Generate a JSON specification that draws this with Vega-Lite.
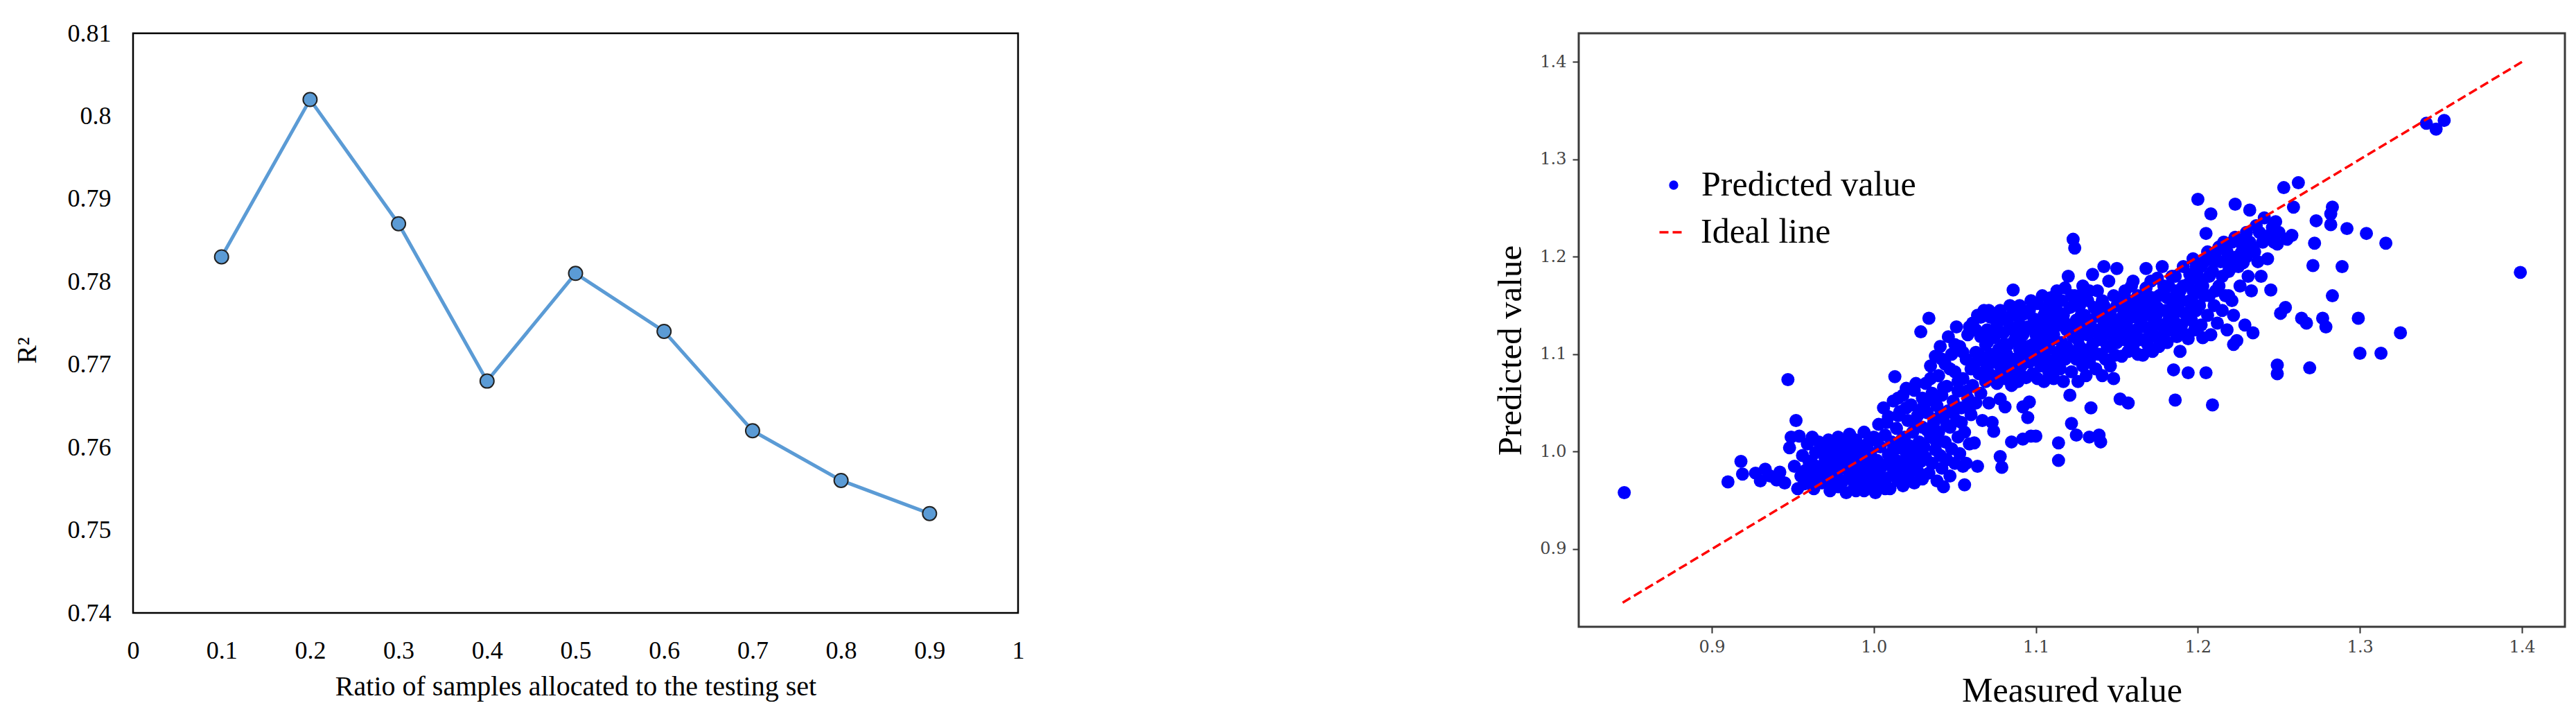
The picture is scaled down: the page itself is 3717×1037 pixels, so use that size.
{
  "$schema": "https://vega.github.io/schema/vega-lite/v6.json",
  "autosize": {"type": "pad"},
  "padding": {"left": 17, "top": 28, "right": 19, "bottom": 20},
  "background": "white",
  "bounds": "flush",
  "spacing": 809,
  "datasets": {
    "pred": [
      {"m":0.846,"p":0.958},{"m":0.910,"p":0.969},{"m":0.918,"p":0.990},{"m":0.919,"p":0.977},{"m":0.927,"p":0.978},{"m":0.930,"p":0.970},{"m":0.933,"p":0.982},{"m":0.936,"p":0.975},{"m":0.940,"p":0.971},{"m":0.942,"p":0.979},{"m":0.945,"p":0.968},{"m":0.947,"p":1.074},{"m":0.948,"p":1.004},{"m":0.949,"p":1.015},{"m":0.952,"p":1.032},{"m":0.951,"p":0.985},{"m":0.953,"p":0.962},{"m":0.954,"p":1.016},{"m":0.955,"p":0.975},{"m":0.956,"p":0.996},
      {"m":0.957,"p":0.967},{"m":0.958,"p":0.981},{"m":0.959,"p":1.008},{"m":0.960,"p":0.990},{"m":0.961,"p":0.972},{"m":0.962,"p":1.015},{"m":0.963,"p":0.962},{"m":0.964,"p":0.999},{"m":0.965,"p":0.978},{"m":0.966,"p":1.010},{"m":0.967,"p":0.985},{"m":0.968,"p":0.968},{"m":0.969,"p":1.002},{"m":0.970,"p":0.993},{"m":0.971,"p":0.975},{"m":0.972,"p":1.012},{"m":0.973,"p":0.960},{"m":0.974,"p":0.984},{"m":0.975,"p":1.005},{"m":0.975,"p":0.970},
      {"m":0.976,"p":0.995},{"m":0.977,"p":0.978},{"m":0.978,"p":1.015},{"m":0.978,"p":0.964},{"m":0.979,"p":1.003},{"m":0.980,"p":0.988},{"m":0.981,"p":0.970},{"m":0.982,"p":1.010},{"m":0.982,"p":0.996},{"m":0.983,"p":0.958},{"m":0.984,"p":0.981},{"m":0.985,"p":1.018},{"m":0.985,"p":0.973},{"m":0.986,"p":1.001},{"m":0.987,"p":0.990},{"m":0.988,"p":0.964},{"m":0.989,"p":1.012},{"m":0.990,"p":0.979},{"m":0.990,"p":0.997},{"m":0.991,"p":0.969},{"m":0.992,"p":1.006},{"m":0.993,"p":0.985},{"m":0.994,"p":1.020},{"m":0.994,"p":0.960},{"m":0.995,"p":0.993},{"m":0.996,"p":0.975},{"m":0.997,"p":1.010},{"m":0.998,"p":0.966},{"m":0.998,"p":0.999},{"m":0.999,"p":0.983},{"m":1.000,"p":1.015},{"m":1.000,"p":0.972},
      {"m":1.001,"p":0.958},{"m":1.002,"p":0.991},{"m":1.003,"p":1.028},{"m":1.003,"p":0.978},{"m":1.004,"p":1.005},{"m":1.005,"p":0.966},{"m":1.006,"p":1.045},{"m":1.006,"p":0.986},{"m":1.007,"p":1.017},{"m":1.008,"p":0.973},{"m":1.009,"p":0.997},{"m":1.009,"p":1.036},{"m":1.010,"p":0.962},{"m":1.011,"p":1.010},{"m":1.012,"p":0.982},{"m":1.012,"p":1.052},{"m":1.013,"p":1.077},{"m":1.013,"p":0.992},{"m":1.014,"p":1.024},{"m":1.015,"p":0.970},{"m":1.016,"p":1.004},{"m":1.016,"p":1.041},{"m":1.017,"p":0.985},{"m":1.018,"p":1.058},{"m":1.018,"p":0.965},{"m":1.019,"p":1.015},{"m":1.020,"p":0.995},{"m":1.021,"p":1.032},{"m":1.021,"p":0.975},{"m":1.022,"p":1.006},{"m":1.023,"p":1.048},{"m":1.023,"p":0.987},{"m":1.024,"p":1.020},{"m":1.025,"p":0.968},{"m":1.025,"p":1.063},{"m":1.026,"p":0.998},{"m":1.027,"p":1.037},{"m":1.027,"p":0.980},{"m":1.028,"p":1.010},{"m":1.029,"p":1.123},{"m":1.029,"p":0.990},{"m":1.030,"p":1.055},{"m":1.030,"p":1.025},{"m":1.030,"p":0.972},
      {"m":1.031,"p":1.005},{"m":1.032,"p":1.070},{"m":1.032,"p":0.994},{"m":1.033,"p":1.040},{"m":1.034,"p":1.137},{"m":1.034,"p":0.978},{"m":1.035,"p":1.088},{"m":1.035,"p":1.015},{"m":1.036,"p":1.060},{"m":1.036,"p":0.988},{"m":1.037,"p":1.030},{"m":1.038,"p":1.098},{"m":1.038,"p":1.002},{"m":1.039,"p":1.047},{"m":1.039,"p":0.970},{"m":1.040,"p":1.078},{"m":1.040,"p":1.020},{"m":1.041,"p":0.996},{"m":1.041,"p":1.108},{"m":1.042,"p":1.058},{"m":1.042,"p":0.983},{"m":1.043,"p":1.035},{"m":1.043,"p":0.964},{"m":1.044,"p":1.090},{"m":1.044,"p":1.010},{"m":1.045,"p":1.067},{"m":1.045,"p":0.992},{"m":1.046,"p":1.042},{"m":1.046,"p":1.118},{"m":1.047,"p":1.025},{"m":1.047,"p":0.975},{"m":1.048,"p":1.100},{"m":1.048,"p":1.003},{"m":1.049,"p":1.052},{"m":1.050,"p":1.082},{"m":1.050,"p":0.988},{"m":1.051,"p":1.032},{"m":1.051,"p":1.128},{"m":1.052,"p":1.015},{"m":1.052,"p":1.062},{"m":1.053,"p":0.998},{"m":1.053,"p":1.108},{"m":1.054,"p":1.045},{"m":1.055,"p":1.075},{"m":1.055,"p":0.985},{"m":1.056,"p":0.966},{"m":1.056,"p":1.020},{"m":1.057,"p":1.095},{"m":1.057,"p":0.988},{"m":1.058,"p":1.055},{"m":1.058,"p":1.120},{"m":1.059,"p":1.008},{"m":1.060,"p":1.085},{"m":1.060,"p":1.038},
      {"m":1.061,"p":1.132},{"m":1.061,"p":1.068},{"m":1.062,"p":1.009},{"m":1.063,"p":1.102},{"m":1.063,"p":1.050},{"m":1.064,"p":1.140},{"m":1.064,"p":0.985},{"m":1.065,"p":1.080},{"m":1.066,"p":1.118},{"m":1.066,"p":1.060},{"m":1.067,"p":1.032},{"m":1.067,"p":1.094},{"m":1.068,"p":1.145},{"m":1.069,"p":1.072},{"m":1.069,"p":1.110},{"m":1.070,"p":1.125},{"m":1.070,"p":1.085},{"m":1.071,"p":1.050},{"m":1.072,"p":1.100},{"m":1.072,"p":1.138},{"m":1.073,"p":1.030},{"m":1.073,"p":1.078},{"m":1.074,"p":1.117},{"m":1.074,"p":1.021},{"m":1.075,"p":1.092},{"m":1.076,"p":1.130},{"m":1.076,"p":1.070},{"m":1.077,"p":1.105},{"m":1.078,"p":1.054},{"m":1.078,"p":1.145},{"m":1.078,"p":0.995},{"m":1.079,"p":1.084},{"m":1.079,"p":0.984},{"m":1.080,"p":1.122},{"m":1.080,"p":1.098},{"m":1.081,"p":1.046},{"m":1.081,"p":1.075},{"m":1.082,"p":1.135},{"m":1.083,"p":1.110},{"m":1.083,"p":1.088},{"m":1.084,"p":1.150},{"m":1.085,"p":1.068},{"m":1.085,"p":1.010},{"m":1.086,"p":1.125},{"m":1.086,"p":1.166},{"m":1.087,"p":1.095},{"m":1.087,"p":1.080},{"m":1.088,"p":1.140},{"m":1.089,"p":1.112},{"m":1.089,"p":1.072},{"m":1.090,"p":1.130},{"m":1.090,"p":1.150},{"m":1.091,"p":1.088},{"m":1.092,"p":1.046},{"m":1.092,"p":1.013},{"m":1.092,"p":1.120},{"m":1.093,"p":1.100},{"m":1.094,"p":1.142},{"m":1.094,"p":1.076},{"m":1.095,"p":1.035},{"m":1.095,"p":1.128},{"m":1.096,"p":1.092},{"m":1.096,"p":1.051},{"m":1.097,"p":1.016},{"m":1.097,"p":1.155},{"m":1.098,"p":1.110},{"m":1.098,"p":1.080},{"m":1.099,"p":1.136},{"m":1.100,"p":1.098},{"m":1.100,"p":1.016},{"m":1.100,"p":1.120},
      {"m":1.101,"p":1.152},{"m":1.101,"p":1.075},{"m":1.102,"p":1.108},{"m":1.103,"p":1.133},{"m":1.103,"p":1.088},{"m":1.104,"p":1.160},{"m":1.105,"p":1.118},{"m":1.105,"p":1.072},{"m":1.106,"p":1.096},{"m":1.106,"p":1.145},{"m":1.107,"p":1.128},{"m":1.108,"p":1.082},{"m":1.108,"p":1.110},{"m":1.109,"p":1.158},{"m":1.110,"p":1.138},{"m":1.110,"p":1.092},{"m":1.111,"p":1.120},{"m":1.111,"p":1.075},{"m":1.112,"p":1.148},{"m":1.113,"p":1.102},{"m":1.113,"p":1.165},{"m":1.114,"p":1.009},{"m":1.114,"p":0.991},{"m":1.114,"p":1.130},{"m":1.115,"p":1.085},{"m":1.116,"p":1.112},{"m":1.116,"p":1.155},{"m":1.117,"p":1.140},{"m":1.117,"p":1.072},{"m":1.118,"p":1.095},{"m":1.118,"p":1.168},{"m":1.119,"p":1.125},{"m":1.120,"p":1.180},{"m":1.120,"p":1.105},{"m":1.121,"p":1.058},{"m":1.121,"p":1.148},{"m":1.122,"p":1.029},{"m":1.122,"p":1.082},{"m":1.123,"p":1.218},{"m":1.123,"p":1.118},{"m":1.124,"p":1.209},{"m":1.124,"p":1.160},{"m":1.125,"p":1.017},{"m":1.125,"p":1.095},{"m":1.125,"p":1.135},{"m":1.126,"p":1.072},{"m":1.127,"p":1.150},{"m":1.127,"p":1.108},{"m":1.128,"p":1.125},{"m":1.129,"p":1.088},{"m":1.129,"p":1.170},{"m":1.130,"p":1.140},{"m":1.130,"p":1.100},{"m":1.131,"p":1.078},{"m":1.132,"p":1.120},{"m":1.132,"p":1.155},{"m":1.133,"p":1.015},{"m":1.133,"p":1.092},{"m":1.134,"p":1.045},{"m":1.134,"p":1.135},{"m":1.135,"p":1.182},{"m":1.135,"p":1.110},{"m":1.136,"p":1.148},{"m":1.137,"p":1.085},{"m":1.137,"p":1.125},{"m":1.138,"p":1.165},{"m":1.139,"p":1.017},{"m":1.139,"p":1.100},{"m":1.140,"p":1.010},{"m":1.140,"p":1.138},{"m":1.141,"p":1.118},{"m":1.141,"p":1.078},{"m":1.142,"p":1.190},{"m":1.142,"p":1.150},{"m":1.143,"p":1.095},{"m":1.144,"p":1.128},{"m":1.145,"p":1.108},{"m":1.145,"p":1.175},{"m":1.146,"p":1.142},{"m":1.146,"p":1.088},{"m":1.147,"p":1.120},{"m":1.148,"p":1.075},{"m":1.148,"p":1.160},{"m":1.149,"p":1.099},{"m":1.149,"p":1.135},{"m":1.150,"p":1.112},{"m":1.150,"p":1.188},
      {"m":1.151,"p":1.150},{"m":1.152,"p":1.054},{"m":1.152,"p":1.125},{"m":1.153,"p":1.098},{"m":1.154,"p":1.140},{"m":1.155,"p":1.115},{"m":1.155,"p":1.165},{"m":1.156,"p":1.130},{"m":1.157,"p":1.050},{"m":1.157,"p":1.103},{"m":1.158,"p":1.155},{"m":1.158,"p":1.120},{"m":1.159,"p":1.138},{"m":1.160,"p":1.108},{"m":1.160,"p":1.175},{"m":1.161,"p":1.145},{"m":1.162,"p":1.125},{"m":1.163,"p":1.160},{"m":1.163,"p":1.100},{"m":1.164,"p":1.135},{"m":1.165,"p":1.115},{"m":1.166,"p":1.099},{"m":1.166,"p":1.150},{"m":1.167,"p":1.128},{"m":1.168,"p":1.188},{"m":1.168,"p":1.168},{"m":1.169,"p":1.110},{"m":1.170,"p":1.142},{"m":1.171,"p":1.125},{"m":1.172,"p":1.158},{"m":1.172,"p":1.103},{"m":1.173,"p":1.135},{"m":1.174,"p":1.118},{"m":1.175,"p":1.178},{"m":1.175,"p":1.148},{"m":1.176,"p":1.108},{"m":1.177,"p":1.130},{"m":1.178,"p":1.162},{"m":1.178,"p":1.190},{"m":1.179,"p":1.120},{"m":1.180,"p":1.145},{"m":1.181,"p":1.112},{"m":1.182,"p":1.170},{"m":1.182,"p":1.135},{"m":1.183,"p":1.125},{"m":1.184,"p":1.155},{"m":1.185,"p":1.084},{"m":1.185,"p":1.140},{"m":1.186,"p":1.053},{"m":1.186,"p":1.180},{"m":1.187,"p":1.118},{"m":1.188,"p":1.150},{"m":1.189,"p":1.103},{"m":1.189,"p":1.165},{"m":1.190,"p":1.130},{"m":1.191,"p":1.190},{"m":1.192,"p":1.142},{"m":1.193,"p":1.120},{"m":1.194,"p":1.081},{"m":1.194,"p":1.116},{"m":1.194,"p":1.172},{"m":1.195,"p":1.155},{"m":1.196,"p":1.135},{"m":1.197,"p":1.198},{"m":1.198,"p":1.125},{"m":1.198,"p":1.162},{"m":1.199,"p":1.145},{"m":1.200,"p":1.259},{"m":1.200,"p":1.180},
      {"m":1.201,"p":1.150},{"m":1.202,"p":1.130},{"m":1.203,"p":1.117},{"m":1.203,"p":1.170},{"m":1.204,"p":1.195},{"m":1.205,"p":1.081},{"m":1.205,"p":1.224},{"m":1.206,"p":1.140},{"m":1.207,"p":1.160},{"m":1.208,"p":1.244},{"m":1.208,"p":1.120},{"m":1.209,"p":1.048},{"m":1.209,"p":1.185},{"m":1.210,"p":1.150},{"m":1.211,"p":1.205},{"m":1.212,"p":1.132},{"m":1.213,"p":1.170},{"m":1.214,"p":1.195},{"m":1.215,"p":1.145},{"m":1.216,"p":1.215},{"m":1.217,"p":1.160},{"m":1.218,"p":1.125},{"m":1.219,"p":1.185},{"m":1.220,"p":1.200},{"m":1.221,"p":1.155},{"m":1.222,"p":1.110},{"m":1.222,"p":1.140},{"m":1.223,"p":1.254},{"m":1.223,"p":1.220},{"m":1.224,"p":1.114},{"m":1.225,"p":1.190},{"m":1.226,"p":1.170},{"m":1.227,"p":1.205},{"m":1.228,"p":1.194},{"m":1.229,"p":1.130},{"m":1.230,"p":1.225},{"m":1.231,"p":1.180},{"m":1.232,"p":1.248},{"m":1.233,"p":1.165},{"m":1.234,"p":1.122},{"m":1.234,"p":1.210},{"m":1.236,"p":1.232},{"m":1.237,"p":1.195},{"m":1.239,"p":1.180},{"m":1.240,"p":1.215},{"m":1.241,"p":1.240},{"m":1.243,"p":1.198},{"m":1.244,"p":1.222},{"m":1.245,"p":1.166},{"m":1.246,"p":1.230},{"m":1.248,"p":1.236},{"m":1.249,"p":1.213},{"m":1.249,"p":1.089},{"m":1.249,"p":1.080},{"m":1.250,"p":1.225},
      {"m":1.251,"p":1.142},{"m":1.253,"p":1.271},{"m":1.254,"p":1.148},{"m":1.255,"p":1.218},{"m":1.258,"p":1.222},{"m":1.259,"p":1.251},{"m":1.262,"p":1.276},{"m":1.264,"p":1.137},{"m":1.267,"p":1.132},{"m":1.269,"p":1.086},{"m":1.271,"p":1.191},{"m":1.272,"p":1.214},{"m":1.273,"p":1.237},{"m":1.277,"p":1.137},{"m":1.279,"p":1.128},{"m":1.282,"p":1.244},{"m":1.282,"p":1.233},{"m":1.283,"p":1.251},{"m":1.283,"p":1.160},{"m":1.289,"p":1.190},{"m":1.292,"p":1.229},{"m":1.299,"p":1.137},{"m":1.300,"p":1.101},{"m":1.304,"p":1.224},{"m":1.313,"p":1.101},{"m":1.316,"p":1.214},{"m":1.325,"p":1.122},{"m":1.341,"p":1.337},{"m":1.347,"p":1.331},{"m":1.352,"p":1.340},{"m":1.399,"p":1.184},
      {"m":0.962,"p":0.988},{"m":0.966,"p":0.972},{"m":0.970,"p":0.980},{"m":0.973,"p":0.997},{"m":0.976,"p":0.966},{"m":0.979,"p":0.991},{"m":0.983,"p":1.007},{"m":0.986,"p":0.977},{"m":0.989,"p":0.960},{"m":0.992,"p":0.995},{"m":0.996,"p":1.002},{"m":0.999,"p":0.962},{"m":0.981,"p":0.984},{"m":0.987,"p":0.971},{"m":0.993,"p":0.978},{"m":0.997,"p":0.988},
      {"m":1.002,"p":1.013},{"m":1.004,"p":0.983},{"m":1.007,"p":0.962},{"m":1.008,"p":1.030},{"m":1.010,"p":0.991},{"m":1.012,"p":1.002},{"m":1.014,"p":0.978},{"m":1.015,"p":1.037},{"m":1.017,"p":1.012},{"m":1.019,"p":0.990},{"m":1.020,"p":1.045},{"m":1.022,"p":0.982},{"m":1.024,"p":1.003},{"m":1.026,"p":1.027},{"m":1.028,"p":0.993},{"m":1.029,"p":1.042},{"m":1.026,"p":1.070},{"m":1.020,"p":1.065},{"m":1.015,"p":1.055},
      {"m":1.031,"p":1.048},{"m":1.033,"p":1.022},{"m":1.035,"p":1.075},{"m":1.037,"p":1.052},{"m":1.038,"p":1.012},{"m":1.040,"p":1.035},{"m":1.042,"p":1.095},{"m":1.043,"p":1.066},{"m":1.045,"p":1.027},{"m":1.047,"p":1.085},{"m":1.049,"p":1.040},{"m":1.050,"p":1.110},{"m":1.052,"p":1.072},{"m":1.054,"p":1.030},{"m":1.055,"p":1.102},{"m":1.057,"p":1.062},{"m":1.059,"p":1.045},{"m":1.059,"p":1.128},
      {"m":1.062,"p":1.090},{"m":1.063,"p":1.125},{"m":1.065,"p":1.100},{"m":1.066,"p":1.138},{"m":1.068,"p":1.082},{"m":1.070,"p":1.112},{"m":1.071,"p":1.145},{"m":1.073,"p":1.096},{"m":1.075,"p":1.120},{"m":1.077,"p":1.140},{"m":1.078,"p":1.088},{"m":1.080,"p":1.110},{"m":1.082,"p":1.100},{"m":1.084,"p":1.128},{"m":1.085,"p":1.140},{"m":1.087,"p":1.115},{"m":1.088,"p":1.092},{"m":1.090,"p":1.105},{"m":1.091,"p":1.140},{"m":1.093,"p":1.125},{"m":1.095,"p":1.108},{"m":1.096,"p":1.145},{"m":1.098,"p":1.095},{"m":1.099,"p":1.125},{"m":1.084,"p":1.078},{"m":1.091,"p":1.078},
      {"m":1.102,"p":1.128},{"m":1.103,"p":1.098},{"m":1.105,"p":1.140},{"m":1.107,"p":1.105},{"m":1.108,"p":1.150},{"m":1.110,"p":1.115},{"m":1.112,"p":1.130},{"m":1.113,"p":1.088},{"m":1.115,"p":1.142},{"m":1.116,"p":1.098},{"m":1.118,"p":1.132},{"m":1.119,"p":1.108},{"m":1.121,"p":1.125},{"m":1.122,"p":1.160},{"m":1.123,"p":1.098},{"m":1.125,"p":1.150},{"m":1.126,"p":1.115},{"m":1.128,"p":1.140},{"m":1.129,"p":1.105},{"m":1.131,"p":1.130},{"m":1.132,"p":1.092},{"m":1.133,"p":1.165},{"m":1.135,"p":1.125},{"m":1.136,"p":1.100},{"m":1.138,"p":1.140},{"m":1.139,"p":1.115},{"m":1.141,"p":1.155},{"m":1.142,"p":1.130},{"m":1.144,"p":1.108},{"m":1.145,"p":1.145},{"m":1.147,"p":1.135},{"m":1.148,"p":1.112},{"m":1.150,"p":1.150},{"m":1.109,"p":1.125},{"m":1.127,"p":1.160},
      {"m":1.151,"p":1.130},{"m":1.153,"p":1.118},{"m":1.154,"p":1.158},{"m":1.156,"p":1.145},{"m":1.158,"p":1.105},{"m":1.159,"p":1.170},{"m":1.161,"p":1.118},{"m":1.162,"p":1.140},{"m":1.164,"p":1.152},{"m":1.165,"p":1.128},{"m":1.167,"p":1.140},{"m":1.169,"p":1.160},{"m":1.170,"p":1.118},{"m":1.171,"p":1.175},{"m":1.173,"p":1.150},{"m":1.174,"p":1.138},{"m":1.176,"p":1.160},{"m":1.177,"p":1.145},{"m":1.179,"p":1.170},{"m":1.180,"p":1.128},{"m":1.181,"p":1.158},{"m":1.183,"p":1.145},{"m":1.184,"p":1.180},{"m":1.186,"p":1.132},{"m":1.187,"p":1.165},{"m":1.188,"p":1.125},{"m":1.190,"p":1.155},{"m":1.191,"p":1.170},{"m":1.193,"p":1.140},{"m":1.195,"p":1.182},{"m":1.196,"p":1.150},{"m":1.197,"p":1.165},{"m":1.199,"p":1.190},
      {"m":1.201,"p":1.175},{"m":1.202,"p":1.190},{"m":1.204,"p":1.160},{"m":1.206,"p":1.205},{"m":1.207,"p":1.180},{"m":1.210,"p":1.195},{"m":1.211,"p":1.165},{"m":1.213,"p":1.210},{"m":1.215,"p":1.180},{"m":1.216,"p":1.195},{"m":1.218,"p":1.205},{"m":1.219,"p":1.160},{"m":1.221,"p":1.215},{"m":1.222,"p":1.190},{"m":1.224,"p":1.200},{"m":1.226,"p":1.215},{"m":1.228,"p":1.210},{"m":1.230,"p":1.200},{"m":1.232,"p":1.215},{"m":1.235,"p":1.205},{"m":1.238,"p":1.225},{"m":1.242,"p":1.220},{"m":1.247,"p":1.215}
    ]
  },
  "hconcat": [
    {
      "width": 1277,
      "height": 836,
      "view": {"stroke": "#000000", "strokeWidth": 2.5},
      "data": {"values": [
        {"ratio": 0.1, "r2": 0.783},
        {"ratio": 0.2, "r2": 0.802},
        {"ratio": 0.3, "r2": 0.787},
        {"ratio": 0.4, "r2": 0.768},
        {"ratio": 0.5, "r2": 0.781},
        {"ratio": 0.6, "r2": 0.774},
        {"ratio": 0.7, "r2": 0.762},
        {"ratio": 0.8, "r2": 0.756},
        {"ratio": 0.9, "r2": 0.752}
      ]},
      "encoding": {
        "x": {
          "field": "ratio", "type": "quantitative",
          "scale": {"domain": [0, 1], "nice": false, "zero": false},
          "axis": {
            "values": [0, 0.1, 0.2, 0.3, 0.4, 0.5, 0.6, 0.7, 0.8, 0.9, 1],
            "format": "~g", "grid": false, "ticks": false, "tickSize": 0, "domain": false,
            "labelFont": "Liberation Serif", "labelFontSize": 36, "labelColor": "#000000",
            "labelBaseline": "alphabetic", "labelPadding": 65, "labelFlush": false,
            "title": "Ratio of samples allocated to the testing set",
            "titleFont": "Liberation Serif", "titleFontSize": 40, "titleFontWeight": "normal", "titleColor": "#000000",
            "titleBaseline": "alphabetic", "titleY": 118
          }
        },
        "y": {
          "field": "r2", "type": "quantitative",
          "scale": {"domain": [0.74, 0.81], "nice": false, "zero": false},
          "axis": {
            "values": [0.74, 0.75, 0.76, 0.77, 0.78, 0.79, 0.8, 0.81],
            "format": "~g", "grid": false, "ticks": false, "tickSize": 0, "domain": false,
            "labelFont": "Liberation Serif", "labelFontSize": 36, "labelColor": "#000000",
            "labelPadding": 32, "labelFlush": false,
            "title": "R²",
            "titleFont": "Liberation Serif", "titleFontSize": 40, "titleFontWeight": "normal", "titleColor": "#000000",
            "titleAngle": -90, "titleBaseline": "middle", "titleAlign": "center", "titleX": -153, "titleY": 457
          }
        }
      },
      "layer": [
        {"mark": {"type": "line", "color": "#5B9BD5", "strokeWidth": 5}},
        {"mark": {"type": "circle", "size": 400, "color": "#5B9BD5", "opacity": 1, "stroke": "#222222", "strokeWidth": 2}}
      ]
    },
    {
      "width": 1423,
      "height": 856,
      "view": {"stroke": "#3a3a3a", "strokeWidth": 3},
      "encoding": {
        "x": {
          "field": "m", "type": "quantitative",
          "scale": {"domain": [0.8179, 1.4265], "nice": false, "zero": false},
          "axis": {
            "values": [0.9, 1.0, 1.1, 1.2, 1.3, 1.4],
            "format": ".1f", "grid": false, "domain": false,
            "ticks": true, "tickSize": 9, "tickWidth": 2, "tickColor": "#333333",
            "labelFont": "DejaVu Serif", "labelFontSize": 24, "labelColor": "#444444",
            "labelBaseline": "alphabetic", "labelPadding": 27, "labelFlush": false,
            "title": "Measured value",
            "titleFont": "Liberation Serif", "titleFontSize": 50, "titleFontWeight": "normal", "titleColor": "#000000",
            "titleBaseline": "alphabetic", "titleY": 107
          }
        },
        "y": {
          "field": "p", "type": "quantitative",
          "scale": {"domain": [0.8203, 1.4294], "nice": false, "zero": false},
          "axis": {
            "values": [0.9, 1.0, 1.1, 1.2, 1.3, 1.4],
            "format": ".1f", "grid": false, "domain": false,
            "ticks": true, "tickSize": 9, "tickWidth": 2, "tickColor": "#333333",
            "labelFont": "DejaVu Serif", "labelFontSize": 24, "labelColor": "#444444",
            "labelPadding": 9, "labelFlush": false,
            "title": "Predicted value",
            "titleFont": "Liberation Serif", "titleFontSize": 49, "titleFontWeight": "normal", "titleColor": "#000000",
            "titleAngle": -90, "titleBaseline": "alphabetic", "titleAlign": "center", "titleX": -84, "titleY": 457
          }
        }
      },
      "layer": [
        {
          "data": {"name": "pred"},
          "mark": {"type": "circle", "size": 360, "opacity": 1},
          "encoding": {
            "color": {
              "datum": "Predicted value",
              "scale": {"range": ["#0000ff"]},
              "legend": {
                "orient": "none", "legendX": 112, "legendY": 194, "padding": 0,
                "title": null, "symbolType": "circle", "symbolSize": 177, "symbolOpacity": 1,
                "symbolFillColor": "#0000ff", "symbolStrokeWidth": 0,
                "labelFont": "Liberation Serif", "labelFontSize": 50, "labelColor": "#000000",
                "labelOffset": 15, "labelLimit": 0
              }
            }
          }
        },
        {
          "data": {"values": [{"m": 0.845, "p": 0.845}, {"m": 1.4, "p": 1.4}]},
          "mark": {"type": "line", "strokeWidth": 3.5, "strokeDash": [13, 6]},
          "encoding": {
            "color": {
              "datum": "Ideal line",
              "scale": {"range": ["#ff0000"]},
              "legend": {
                "orient": "none", "legendX": 110, "legendY": 262, "padding": 0,
                "title": null, "symbolType": "stroke", "symbolSize": 1369,
                "symbolStrokeColor": "#ff0000", "symbolStrokeWidth": 3.5, "symbolDash": [13, 6],
                "labelFont": "Liberation Serif", "labelFontSize": 50, "labelColor": "#000000",
                "labelOffset": 16, "labelLimit": 0
              }
            }
          }
        }
      ],
      "resolve": {"scale": {"color": "independent"}}
    }
  ]
}
